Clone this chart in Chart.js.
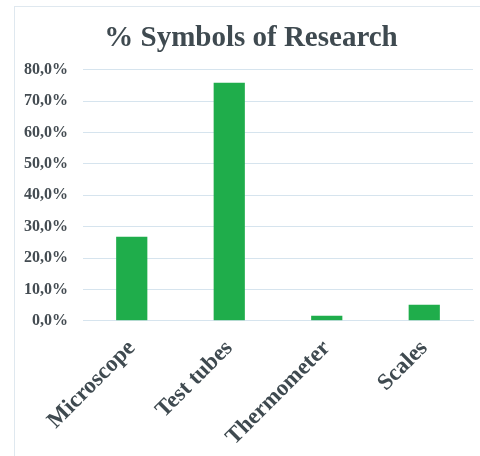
<!DOCTYPE html>
<html><head><meta charset="utf-8">
<script src="https://cdn.jsdelivr.net/npm/chart.js@4"></script>
<style>
html,body{margin:0;padding:0;background:#fff;overflow:hidden;width:480px;height:456px;}
#wrap{position:absolute;left:14px;top:6px;width:474px;height:460px;border:1px solid #dfe8ef;box-sizing:border-box;}
canvas{display:block;}
</style></head><body>
<div id="wrap"><canvas id="c" width="472" height="458"></canvas></div>
<script>
const categories = ["Microscope", "Test tubes", "Thermometer", "Scales"];
const values = [26.8, 75.9, 1.6, 5.1];
const chartTitle = "% Symbols of Research";
const serif = "'Liberation Serif','Times New Roman',serif";
new Chart(document.getElementById('c'), {
  type: 'bar',
  data: { labels: categories, datasets: [{ data: values, backgroundColor: '#1fad4b', borderWidth: 0, barPercentage: 0.32, categoryPercentage: 1 }] },
  options: {
    responsive: false, animation: false,
    layout: { padding: { left: 0, right: 0, top: 10, bottom: 8 } },
    plugins: {
      legend: { display: false }, tooltip: { enabled: false },
      title: { display: true, text: chartTitle, color: '#3f4a50', font: { family: serif, size: 29, weight: 'bold' }, padding: { top: 4, bottom: 14 } }
    },
    scales: {
      y: { min: 0, max: 80, border: { display: false },
        grid: { color: '#d6e4ee', lineWidth: 1, drawTicks: false },
        afterFit: s => { s.width = 68; },
        ticks: { stepSize: 10, padding: 15, color: '#444c52', font: { family: serif, size: 16, weight: 'bold' },
          callback: v => v.toFixed(1).replace('.', ',') + '%' } },
      y2: { position: 'right', display: true, grid: { display: false }, border: { display: false },
        ticks: { display: false }, afterFit: s => { s.width = 14; } },
      x: { border: { display: true, color: '#d6e4ee' }, grid: { display: false },
        ticks: { minRotation: 45, maxRotation: 45, padding: 6, color: '#3f4a50', font: { family: serif, size: 23, weight: 'bold' } } }
    }
  }
});
</script></body></html>
